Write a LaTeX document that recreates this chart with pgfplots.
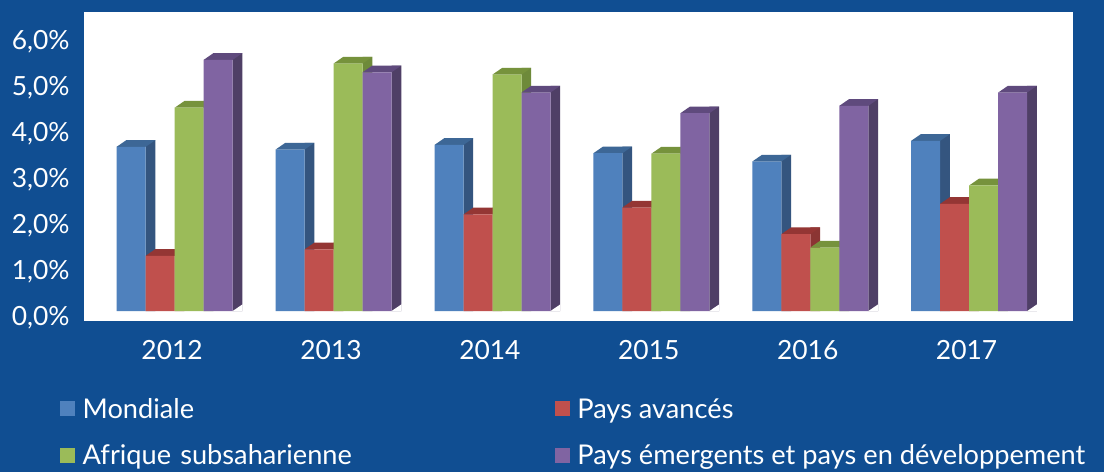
\documentclass[border=0pt]{standalone}
\usepackage{pgfplots}
\usepackage{pgfplotstable}
\pgfplotsset{compat=1.18}
\usepackage{fontspec}
\setmainfont{Lato}
\definecolor{bgblue}{RGB}{16,78,146}
\definecolor{bF}{HTML}{4F81BD}\definecolor{bS}{HTML}{34557F}\definecolor{bT}{HTML}{3D6796}
\definecolor{rF}{HTML}{C0504D}\definecolor{rS}{HTML}{8B3533}\definecolor{rT}{HTML}{943634}
\definecolor{gF}{HTML}{9BBB59}\definecolor{gS}{HTML}{6E8A3A}\definecolor{gT}{HTML}{76923C}
\definecolor{pF}{HTML}{8064A2}\definecolor{pS}{HTML}{4F3F66}\definecolor{pT}{HTML}{5F4A7D}
\pgfdeclareplotmark{topface}{%
  \pgfpathmoveto{\pgfqpoint{-7.25pt}{0pt}}%
  \pgfpathlineto{\pgfqpoint{7.25pt}{0pt}}%
  \pgfpathlineto{\pgfqpoint{12.1pt}{3.35pt}}%
  \pgfpathlineto{\pgfqpoint{-2.4pt}{3.35pt}}%
  \pgfpathclose\pgfusepathqfill}
\pgfdeclareplotmark{botface}{%
  \pgfpathmoveto{\pgfqpoint{7.25pt}{0pt}}%
  \pgfpathlineto{\pgfqpoint{12.2pt}{0pt}}%
  \pgfpathlineto{\pgfqpoint{12.2pt}{3.35pt}}%
  \pgfpathclose\pgfusepathqfill}
\pgfplotstableread{
x m a s e
0 3.57 1.20 4.42 5.46
1 3.51 1.34 5.38 5.19
2 3.61 2.10 5.14 4.75
3 3.43 2.25 3.42 4.30
4 3.25 1.67 1.38 4.46
5 3.70 2.33 2.73 4.75
}\data
\newcommand\barseries[5]{%
  \addplot[ybar, forget plot, bar width=4.85pt, bar shift=0pt, fill=#4, draw=none]
    table[x expr=\thisrow{x}+#2+0.1218, y expr=\thisrow{#1}+0.1457]{\data};
  \addplot[only marks, forget plot, mark=botface, mark options={fill=white, draw=none}]
    table[x expr=\thisrow{x}+#2, y expr=0]{\data};
  \addplot[only marks, forget plot, mark=topface, mark options={fill=#5, draw=none}]
    table[x expr=\thisrow{x}+#2, y=#1]{\data};
  \addplot[ybar, forget plot, bar width=14.5pt, bar shift=0pt, fill=#3, draw=none]
    table[x expr=\thisrow{x}+#2, y=#1]{\data};
}
\begin{document}
\begin{tikzpicture}
\fill[bgblue] (0,0) rectangle (552pt,236pt);
\begin{axis}[
  at={(42pt,75.5pt)}, anchor=south west,
  scale only axis, width=494.5pt, height=154.5pt,
  xmin=-0.5708, xmax=5.6532, ymin=-0.2174, ymax=6.5,
  clip marker paths=true,
  axis line style={draw=none}, tick style={draw=none},
  major tick length=0pt,
  axis background/.style={fill=white},
  xtick={0,...,5}, xticklabels={2012,2013,2014,2015,2016,2017},
  ytick={0,...,6},
  /pgf/number format/assume math mode=true,
  yticklabel={\pgfmathprintnumber[fixed,fixed zerofill,precision=1,use comma]{\tick}\%},
  tick label style={text=white, font=\fontsize{13.2}{15}\selectfont},
  yticklabel style={inner sep=0pt, anchor=east, xshift=-7pt, yshift=-3.5pt},
  xticklabel style={inner sep=0pt, anchor=north, yshift=-9.5pt, xshift=-1.3pt},
  legend columns=2,
  legend image code/.code={\fill[#1] (0pt,0.9pt) rectangle (7.5pt,8.4pt);},
  legend style={draw=none, fill=none, inner sep=0pt, outer sep=0pt,
    at={(axis description cs:-0.0243,-0.2500)}, anchor=north west,
    font=\fontsize{13.6}{16}\selectfont, text=white,
    cells={anchor=base west}, row sep=11.6pt,
    /tikz/every odd column/.style={column sep=3.85pt},
    /tikz/column 2/.style={text width=236pt, column sep=0pt},
    nodes={inner sep=0pt}},
]
\barseries{m}{-0.27376}{bF}{bS}{bT}
\barseries{a}{-0.09125}{rF}{rS}{rT}
\barseries{s}{0.09125}{gF}{gS}{gT}
\barseries{e}{0.27376}{pF}{pS}{pT}
\addlegendimage{fill=bF, draw=none}
\addlegendimage{fill=rF, draw=none}
\addlegendimage{fill=gF, draw=none}
\addlegendimage{fill=pF, draw=none}
\legend{Mondiale, Pays avancés, Afrique subsaharienne, Pays émergents et pays en développement}
\end{axis}
\pgfresetboundingbox
\path[use as bounding box] (0,0) rectangle (552pt,236pt);
\end{tikzpicture}
\end{document}
